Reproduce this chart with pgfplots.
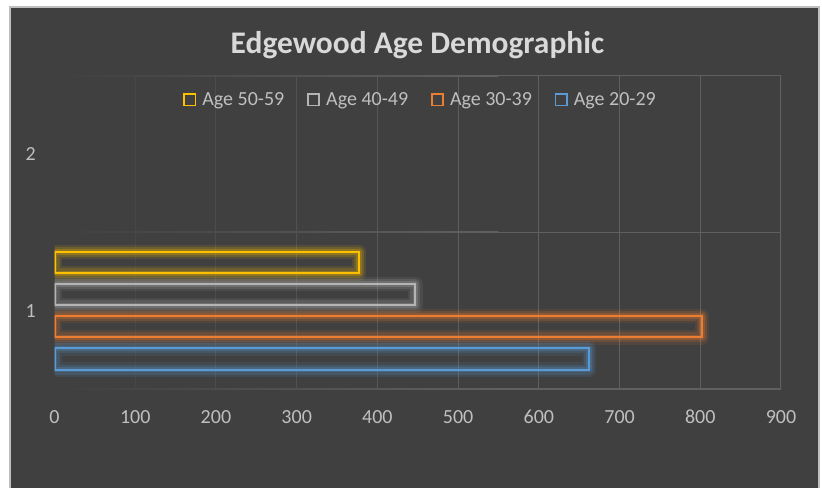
\documentclass[border=0pt]{standalone}
\usepackage{fontspec}
\setmainfont{Carlito}
\usepackage{pgfplots}
\pgfplotsset{compat=1.18}

\definecolor{bgc}{HTML}{404040}
\definecolor{framec}{HTML}{BFBFBF}
\definecolor{titlec}{HTML}{D9D9D9}
\definecolor{labelc}{HTML}{BFBFBF}
\definecolor{gridc}{HTML}{606060}
\definecolor{agefifty}{HTML}{FFC000}
\definecolor{ageforty}{HTML}{B4B4B4}
\definecolor{agethirty}{HTML}{ED7D31}
\definecolor{agetwenty}{HTML}{5B9BD5}

\pgfplotsset{
  % soft halo behind a bar outline
  glowbar/.style={xbar, bar width=0.1357, bar shift=0pt, draw=none, fill=none, forget plot,
    preaction={draw=#1, draw opacity=0.10, line width=11pt, line join=round, fill=none},
    preaction={draw=#1, draw opacity=0.16, line width=7.5pt, line join=round, fill=none},
    preaction={draw=#1, draw opacity=0.24, line width=4pt, line join=round, fill=none}},
  % the outlined bar itself
  agebar/.style={xbar, bar width=0.1357, bar shift=0pt, draw=#1, fill=none,
    line width=1.5pt,
    legend image code/.code={\draw[draw=#1, line width=1.3pt] (0pt,-4.3pt) rectangle (8.6pt,4.3pt);}},
}

\begin{document}
\begin{tikzpicture}
\useasboundingbox (0pt,0pt) rectangle (616.5pt,366pt);
\fill[white] (0pt,0pt) rectangle (616.5pt,366pt);
\draw[framec, line width=1.5pt, fill=bgc] (7.5pt,-5pt) rectangle (614.6pt,361.1pt);

\node[anchor=base, text=titlec, font=\bfseries\fontsize{23.6pt}{27pt}\selectfont]
  at (313.1pt,326pt) {Edgewood Age Demographic};

\begin{axis}[
  at={(40.875pt,74pt)}, anchor=south west,
  scale only axis, width=544.9pt, height=235.7pt,
  xmin=0, xmax=900, ymin=0.5, ymax=2.5,
  xtick={0,100,...,900}, ytick={1,2},
  major tick length=0pt,
  axis line style={draw=none},
  tick label style={font=\fontsize{15pt}{18pt}\selectfont, text=labelc, inner sep=0pt},
  /pgf/number format/assume math mode=true,
  xticklabel style={anchor=north, yshift=-15.5pt},
  yticklabel style={anchor=east, xshift=-13.8pt},
  legend columns=4,
  legend style={at={(0.5024,0.9216)}, anchor=center, draw=none, fill=none,
    inner sep=0pt, text=labelc, font=\fontsize{15pt}{18pt}\selectfont,
    nodes={inner sep=0pt},
    /tikz/every odd column/.append style={column sep=4.5pt},
    /tikz/every even column/.append style={column sep=17pt}},
]
% value gridlines, fading in from the left
\foreach \v in {100,200,...,900} {
  \pgfmathsetmacro\p{min(100,\v/5.5)}
  \pgfmathsetmacro\w{\v==900 ? 1.5 : 0.75}
  \edef\gridline{\noexpand\draw[gridc!\p!bgc, line width=\w pt]
    (axis cs:\v,0.5) -- (axis cs:\v,2.5);}
  \gridline
}
% group separators
\foreach \g/\w in {0.5/1.5,1.5/0.75,2.5/1.5} {
  \edef\sepline{\noexpand\shade[left color=bgc, right color=gridc]
    ([yshift=-\w pt/2]axis cs:0,\g) rectangle ([yshift=\w pt/2]axis cs:550,\g);
    \noexpand\fill[gridc]
    ([yshift=-\w pt/2]axis cs:550,\g) rectangle ([yshift=\w pt/2]axis cs:900,\g);}
  \sepline
}
% halos first, then the outlined bars (all in group 1; group 2 is empty)
\addplot[glowbar=agefifty]  coordinates {(377,1.3066)};
\addplot[glowbar=ageforty]  coordinates {(447,1.1021)};
\addplot[glowbar=agethirty] coordinates {(802,0.8979)};
\addplot[glowbar=agetwenty] coordinates {(662,0.6934)};

\addplot[agebar=agefifty]  coordinates {(377,1.3066)};
\addlegendentry{Age 50-59}
\addplot[agebar=ageforty]  coordinates {(447,1.1021)};
\addlegendentry{Age 40-49}
\addplot[agebar=agethirty] coordinates {(802,0.8979)};
\addlegendentry{Age 30-39}
\addplot[agebar=agetwenty] coordinates {(662,0.6934)};
\addlegendentry{Age 20-29}
\end{axis}
\end{tikzpicture}
\end{document}
